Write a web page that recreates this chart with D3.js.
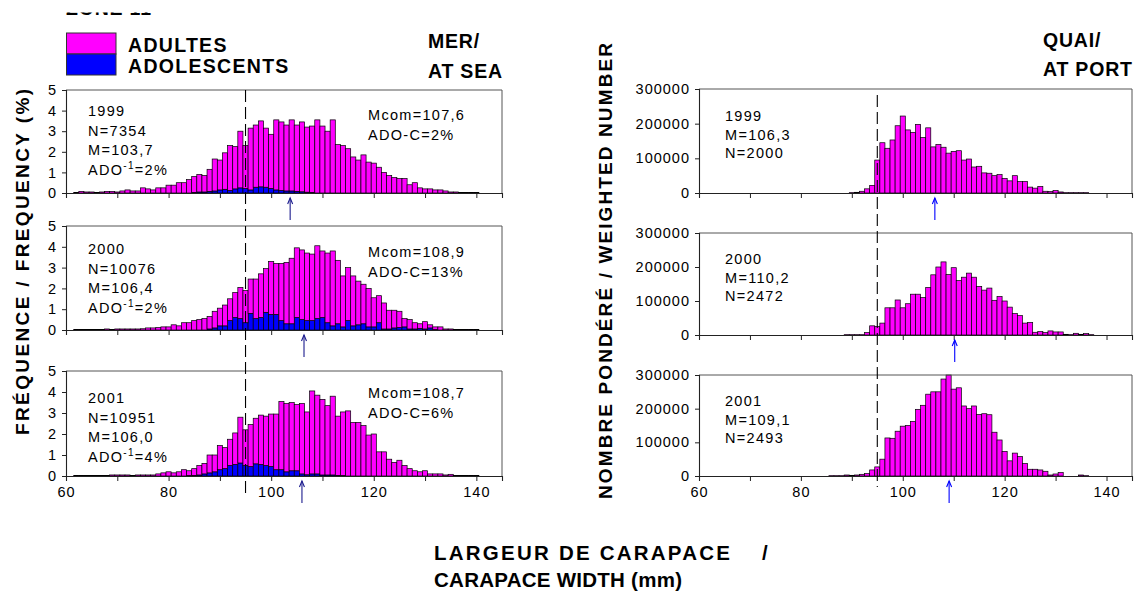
<!DOCTYPE html>
<html>
<head>
<meta charset="utf-8">
<script src="https://cdn.jsdelivr.net/npm/d3@7"></script>
<style>
  body { margin: 0; background: #fff; }
  svg { display: block; }
  text { font-family: "Liberation Sans", Arial, sans-serif; fill: #000; }
</style>
</head>
<body>
<svg id="chart" width="1140" height="595"></svg>
<script>
// Carapace width classes (mm), one bar per class
const widthClasses = [62,63,64,65,66,67,68,69,70,71,72,73,74,75,76,77,78,79,80,81,82,83,84,85,86,87,88,89,90,91,92,93,94,95,96,97,98,99,100,101,102,103,104,105,106,107,108,109,110,111,112,113,114,115,116,117,118,119,120,121,122,123,124,125,126,127,128,129,130,131,132,133,134,135,136,137,138,139,140];

// At sea: total frequency (%) per class, and the adolescent part of it
const seaTotal1999 = [0.03,0.08,0.05,0.05,0.03,0.05,0.08,0.08,0.05,0.1,0.15,0.1,0.1,0.25,0.2,0.15,0.25,0.25,0.38,0.38,0.5,0.5,0.65,0.8,0.9,0.85,1.15,1.65,1.6,1.95,2.3,2.25,3.0,2.3,3.15,3.3,3.5,3.15,2.85,3.55,3.45,3.3,3.55,3.3,3.45,3.2,3.25,3.55,3.25,3.0,3.55,2.35,2.3,2.15,1.75,1.6,1.85,1.5,1.45,1.25,1.0,0.85,0.75,0.7,0.7,0.4,0.5,0.25,0.2,0.2,0.15,0.15,0.1,0.05,0.05,0.03,0.02,0.02,0.02];
const seaAdo1999 = [0,0,0,0,0,0,0,0,0,0,0,0,0,0,0,0,0,0,0,0,0,0,0,0.03,0.05,0.05,0.08,0.1,0.15,0.18,0.12,0.2,0.25,0.22,0.15,0.28,0.3,0.28,0.22,0.15,0.12,0.1,0.1,0.08,0.06,0.04,0.03,0,0,0,0,0,0,0,0,0,0,0,0,0,0,0,0,0,0,0,0,0,0,0,0,0,0,0,0,0,0,0,0];

const seaTotal2000 = [0.02,0.02,0.02,0.02,0.02,0.03,0.05,0.03,0.05,0.05,0.05,0.05,0.05,0.06,0.1,0.1,0.12,0.15,0.15,0.25,0.2,0.35,0.35,0.45,0.5,0.55,0.65,0.9,1.05,1.2,1.5,1.8,2.05,1.9,2.45,2.45,2.7,2.95,3.3,3.2,3.2,3.25,3.45,3.95,3.85,3.7,3.65,4.05,3.8,3.7,3.8,3.35,2.6,3.0,2.6,2.35,2.2,2.0,1.55,1.65,1.3,0.95,0.95,0.9,0.55,0.5,0.35,0.3,0.4,0.25,0.15,0.15,0.05,0.05,0.03,0.02,0.02,0.02,0.02];
const seaAdo2000 = [0,0,0,0,0,0,0,0,0,0,0,0,0,0,0,0,0,0,0,0,0,0,0,0,0,0,0.05,0.1,0.2,0.2,0.45,0.6,0.55,0.35,0.8,0.55,0.6,0.85,0.75,0.75,0.45,0.3,0.3,0.6,0.5,0.45,0.45,0.55,0.6,0.35,0.2,0.3,0.15,0.45,0.2,0.25,0.3,0.15,0.15,0.35,0.05,0.05,0.1,0.12,0.15,0.05,0.05,0.08,0.05,0.1,0.02,0,0,0,0,0,0,0,0];

const seaTotal2001 = [0.02,0.02,0.02,0.02,0.02,0.03,0.03,0.05,0.05,0.05,0.05,0.03,0.05,0.05,0.05,0.05,0.1,0.15,0.2,0.15,0.2,0.3,0.25,0.35,0.5,0.6,1.0,1.0,1.45,1.35,1.75,2.05,2.8,2.2,2.45,2.75,2.9,2.85,2.95,2.95,3.55,3.45,3.5,3.4,3.45,3.05,4.05,3.85,3.65,3.35,3.8,2.85,3.05,3.1,2.55,2.55,2.4,1.95,2.0,1.15,1.15,0.8,0.65,0.75,0.5,0.35,0.25,0.2,0.25,0.1,0.1,0.1,0.05,0.08,0.03,0.02,0.02,0.02,0.02];
const seaAdo2001 = [0,0,0,0,0,0,0,0,0,0,0,0,0,0,0,0,0,0,0,0,0,0,0.02,0.03,0.05,0.1,0.15,0.2,0.3,0.35,0.5,0.55,0.62,0.5,0.45,0.58,0.55,0.5,0.45,0.3,0.3,0.2,0.25,0.25,0.1,0.06,0.1,0.1,0.05,0.05,0.05,0.03,0.02,0,0,0,0,0,0,0,0,0,0,0,0,0,0,0,0,0,0,0,0,0,0,0,0,0,0];

// At port: weighted number per class
const port1999 = [0,0,0,0,0,0,0,0,0,0,0,0,0,0,0,0,0,0,0,0,0,0,0,0,0,0,0,0,1000,2000,5000,12000,22000,95000,145000,129000,153000,194000,222000,182000,175000,198000,160000,188000,133000,140000,132000,115000,120000,122000,95000,98000,75000,77000,58000,57000,50000,53000,42000,35000,50000,33000,33000,17000,14000,19000,5000,4000,7000,3000,1000,1000,1000,1000,1000,0,0,0,0];
const port2000 = [0,0,0,0,0,0,0,0,0,0,0,0,0,0,0,0,0,0,0,0,0,0,0,0,0,0,0,1000,1000,1000,1000,7000,27000,25000,35000,80000,80000,103000,80000,92000,120000,120000,110000,140000,177000,200000,215000,178000,198000,160000,170000,182000,170000,143000,132000,138000,102000,113000,100000,82000,63000,57000,35000,37000,8000,10000,7000,12000,9000,9000,2000,1000,5000,2000,4000,1000,0,0,0];
const port2001 = [0,0,0,0,0,0,0,0,0,0,0,0,0,0,0,0,0,0,0,0,0,0,0,0,1000,1000,1000,3000,2000,3000,5000,7000,18000,27000,50000,113000,112000,133000,148000,150000,162000,198000,210000,243000,250000,250000,288000,300000,258000,262000,208000,200000,208000,183000,185000,182000,130000,107000,73000,45000,68000,58000,37000,20000,20000,18000,14000,3000,6000,10000,0,0,0,3000,1000,0,0,0,0];

// Panel annotations
const seaYears = ["1999", "2000", "2001"];
const seaN = ["7354", "10076", "10951"];
const seaMean = [103.7, 106.4, 106.0];
const seaAdoPct = ["2%", "2%", "4%"];
const seaMcom = [107.6, 108.9, 108.7];
const seaAdoC = ["2%", "13%", "6%"];
const portYears = ["1999", "2000", "2001"];
const portMean = [106.3, 110.2, 109.1];
const portN = ["2000", "2472", "2493"];

// Axis ticks
const widthTicks = [60, 70, 80, 90, 100, 110, 120, 130, 140];
const widthTickLabels = [60, 80, 100, 120, 140];
const seaTicks = [0, 1, 2, 3, 4, 5];
const portTicks = [0, 100000, 200000, 300000];
const minimumSize = 95;   // dashed reference line

const comma1 = v => d3.format(".1f")(v).replace(".", ",");

const svg = d3.select("#chart");
const MAGENTA = "#ff00ff", BLUE = "#0000ff";

// ---- panel geometry ----
const left = { x0: 66, x1: 502, tops: [90, 226, 371], bottoms: [193, 330, 476] };
const right = { x0: 699, x1: 1132, tops: [89, 233, 375], bottoms: [193, 335, 476] };

const xSea = d3.scaleLinear().domain([60, 145]).range([left.x0, left.x1]);
const xPort = d3.scaleLinear().domain([60, 145]).range([right.x0, right.x1]);

function drawFrame(g, x, y, x0, x1, top, bottom, yTicks, yFmt, showXLabels) {
  // top and right border
  g.append("path")
    .attr("d", `M${x0},${top}H${x1}V${bottom}`)
    .attr("fill", "none").attr("stroke", "#555").attr("stroke-width", 1);
  const yAxis = d3.axisLeft(y).tickValues(yTicks).tickSize(4).tickPadding(5).tickFormat(yFmt);
  const ya = g.append("g").attr("transform", `translate(${x0},0)`).call(yAxis);
  const xAxis = d3.axisBottom(x).tickValues(widthTicks).tickSize(5).tickPadding(6)
    .tickFormat(d => (showXLabels && widthTickLabels.includes(d)) ? d : "");
  const xa = g.append("g").attr("transform", `translate(0,${bottom})`).call(xAxis);
  [ya, xa].forEach(a => {
    a.select(".domain").attr("stroke", "#222").attr("stroke-width", 1.1);
    a.selectAll(".tick line").attr("stroke", "#222");
    a.selectAll("text").style("font-size", "14.5px").style("letter-spacing", "1px")
      .style("font-family", '"Liberation Sans", Arial, sans-serif').attr("fill", "#000");
  });
}

function drawArrow(g, xPos, yStart, color) {
  g.append("line").attr("x1", xPos).attr("x2", xPos).attr("y1", yStart).attr("y2", yStart + 22)
    .attr("stroke", color).attr("stroke-width", 1.1);
  g.append("path")
    .attr("d", `M${xPos - 2.5},${yStart + 6}L${xPos},${yStart}L${xPos + 2.5},${yStart + 6}`)
    .attr("fill", "none").attr("stroke", color).attr("stroke-width", 1.1);
}

function textLines(g, x, y0, step, lines, size, spacing) {
  lines.forEach((l, i) => {
    const t = g.append("text").attr("x", x).attr("y", y0 + i * step)
      .style("font-size", size + "px").style("letter-spacing", spacing + "px");
    if (Array.isArray(l)) {
      // [base, superscript, rest]
      t.append("tspan").text(l[0]);
      t.append("tspan").attr("dy", -6).style("font-size", "10px").text(l[1]);
      t.append("tspan").attr("dy", 6).text(l[2]);
    } else {
      t.text(l);
    }
  });
}

// ---- at sea (left column) ----
const seaTotals = [seaTotal1999, seaTotal2000, seaTotal2001];
const seaAdos = [seaAdo1999, seaAdo2000, seaAdo2001];
const seaTextY = [116, 254, 403];
const seaMcomY = [120, 257, 398];

seaTotals.forEach((tot, p) => {
  const g = svg.append("g");
  const y = d3.scaleLinear().domain([0, 5]).range([left.bottoms[p], left.tops[p]]);
  const rows = widthClasses.map((w, i) => ({ w, ado: seaAdos[p][i], adult: tot[i] - seaAdos[p][i] }));
  const stacked = d3.stack().keys(["ado", "adult"])(rows);
  const bw = xSea(1) - xSea(0);
  stacked.forEach(series => {
    g.append("g").selectAll("rect")
      .data(series.filter(d => d[1] - d[0] > 0))
      .join("rect")
      .attr("x", d => xSea(d.data.w) - bw / 2)
      .attr("width", bw)
      .attr("y", d => y(d[1]))
      .attr("height", d => y(d[0]) - y(d[1]))
      .attr("fill", series.key === "ado" ? BLUE : MAGENTA)
      .attr("stroke", "#000").attr("stroke-width", 0.7);
  });
  drawFrame(g, xSea, y, left.x0, left.x1, left.tops[p], left.bottoms[p], seaTicks, d3.format("d"), p === 2);
  drawArrow(g, xSea(seaMean[p]), left.bottoms[p] + 5, "#1c1c8e");
  textLines(g, 88, seaTextY[p], 19.5, [
    seaYears[p], "N=" + seaN[p], "M=" + comma1(seaMean[p]), ["ADO", "-1", "=" + seaAdoPct[p]]
  ], 14.5, 1.3);
  textLines(g, 368, seaMcomY[p], 20, ["Mcom=" + comma1(seaMcom[p]), "ADO-C=" + seaAdoC[p]], 14.5, 1.3);
});

// ---- at port (right column) ----
const ports = [port1999, port2000, port2001];
const portTextY = [121, 264, 406];
ports.forEach((vals, p) => {
  const g = svg.append("g");
  const y = d3.scaleLinear().domain([0, 300000]).range([right.bottoms[p], right.tops[p]]);
  const bw = xPort(1) - xPort(0);
  g.append("g").selectAll("rect")
    .data(widthClasses.map((w, i) => ({ w, v: vals[i] })).filter(d => d.v > 0))
    .join("rect")
    .attr("x", d => xPort(d.w) - bw / 2)
    .attr("width", bw)
    .attr("y", d => y(d.v))
    .attr("height", d => y(0) - y(d.v))
    .attr("fill", MAGENTA)
    .attr("stroke", "#000").attr("stroke-width", 0.7);
  drawFrame(g, xPort, y, right.x0, right.x1, right.tops[p], right.bottoms[p], portTicks, d3.format("d"), p === 2);
  drawArrow(g, xPort(portMean[p]), right.bottoms[p] + 5, "#0000ff");
  textLines(g, 725, portTextY[p], 18.5, [
    portYears[p], "M=" + comma1(portMean[p]), "N=" + portN[p]
  ], 14.5, 1.3);
});

// dashed minimum-size lines
svg.append("line").attr("x1", xSea(minimumSize)).attr("x2", xSea(minimumSize))
  .attr("y1", 90).attr("y2", 498)
  .attr("stroke", "#000").attr("stroke-width", 1.1).attr("stroke-dasharray", "12,5");
svg.append("line").attr("x1", xPort(minimumSize)).attr("x2", xPort(minimumSize))
  .attr("y1", 95).attr("y2", 487)
  .attr("stroke", "#000").attr("stroke-width", 1.1).attr("stroke-dasharray", "12,5");

// ---- legend and headings ----
const legendItems = [{ label: "ADULTES", color: MAGENTA }, { label: "ADOLESCENTS", color: BLUE }];
legendItems.forEach((it, i) => {
  svg.append("rect").attr("x", 66.5).attr("y", 33 + i * 21).attr("width", 49.5).attr("height", 21)
    .attr("fill", it.color).attr("stroke", "#333").attr("stroke-width", 1);
  svg.append("text").attr("x", 128).attr("y", 51.5 + i * 21)
    .style("font-size", "19.5px").style("font-weight", "bold").style("letter-spacing", "1.3px")
    .text(it.label);
});

function bold(x, y, txt, size, spacing, anchor) {
  return svg.append("text").attr("x", x).attr("y", y)
    .style("font-size", size + "px").style("font-weight", "bold")
    .style("letter-spacing", spacing + "px").attr("text-anchor", anchor || "start").text(txt);
}
// zone heading at the very top, trimmed by the page edge
svg.append("defs").append("clipPath").attr("id", "topclip").append("rect")
  .attr("x", 0).attr("y", 12.5).attr("width", 300).attr("height", 10);
bold(66, 15, "ZONE 11", 19.5, 0.8).attr("clip-path", "url(#topclip)");

bold(428, 48, "MER/", 19.5, 0.8);
bold(428, 78, "AT SEA", 19.5, 0.8);
bold(1043, 47, "QUAI/", 19.5, 0.8);
bold(1043, 76, "AT PORT", 19.5, 0.8);

// axis titles
bold(0, 0, "FRÉQUENCE / FREQUENCY (%)", 19, 0, "middle")
  .attr("textLength", 346).attr("lengthAdjust", "spacing")
  .attr("transform", "translate(29,262) rotate(-90)");
bold(0, 0, "NOMBRE PONDÉRÉ / WEIGHTED NUMBER", 19, 0, "middle")
  .attr("textLength", 456).attr("lengthAdjust", "spacing")
  .attr("transform", "translate(612,271) rotate(-90)");
const xTitle = bold(434, 560, "", 20.5, 0);
xTitle.append("tspan").attr("textLength", 296).attr("lengthAdjust", "spacing").text("LARGEUR DE CARAPACE");
xTitle.append("tspan").attr("x", 762).text("/");
bold(434, 587, "CARAPACE WIDTH (mm)", 20.5, 0)
  .attr("textLength", 248).attr("lengthAdjust", "spacing");
</script>
</body>
</html>
